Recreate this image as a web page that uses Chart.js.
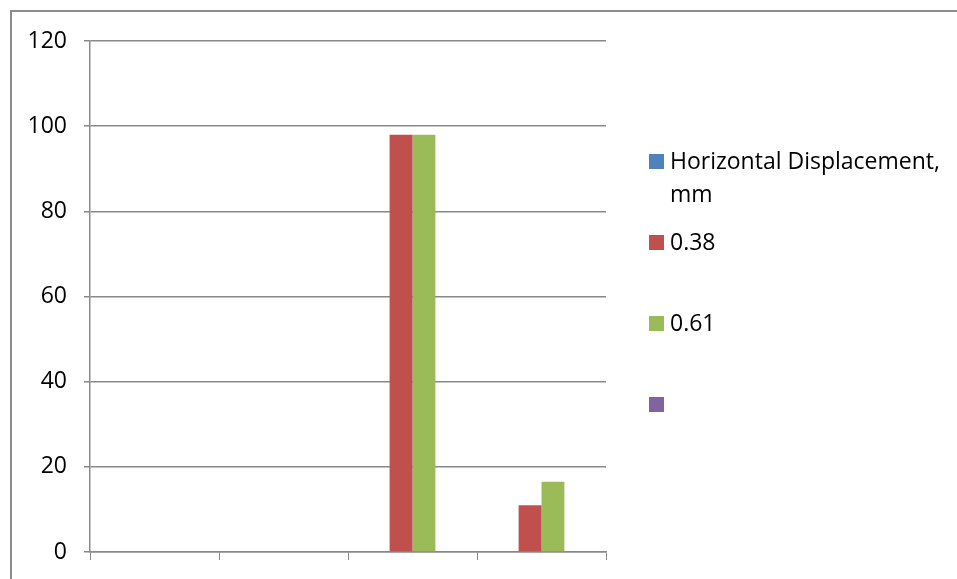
<!DOCTYPE html>
<html lang="en">
<head>
    <meta charset="UTF-8">
    <title>Displacement chart</title>
    <style>
        html, body { margin: 0; padding: 0; background: #fff; }
        #wrap { width: 957px; height: 579px; position: relative; }
    </style>
    <script src="https://cdn.jsdelivr.net/npm/chart.js"></script>
</head>
<body>
    <div id="wrap"><canvas id="dispChart"></canvas></div>

    <script>
        // chart data
        const categories = ['', '', '', ''];
        const seriesNames = ['Horizontal Displacement, mm', '0.38', '0.61', ''];
        const horizDisp = [null, null, null, null];
        const val038 = [null, null, 98, 11];
        const val061 = [null, null, 98, 16.5];
        const blankSeries = [null, null, null, null];
        const yTicks = [0, 20, 40, 60, 80, 100, 120];

        const colors = ['#4F81BD', '#C0504D', '#9BBB59', '#8064A2'];
        const gridGray = '#898989';
        const fontFam = '"Open Sans", "Noto Sans", sans-serif';

        // border around the chart + legend drawn at right like the excel one
        const frameAndLegend = {
            id: 'frameAndLegend',
            afterDraw(chart) {
                const ctx = chart.ctx;
                ctx.save();
                ctx.strokeStyle = '#8c8c8c';
                ctx.lineWidth = 2;
                ctx.beginPath();
                ctx.moveTo(11, 600);
                ctx.lineTo(11, 11);
                ctx.lineTo(980, 11);
                ctx.stroke();

                ctx.font = '23px ' + fontFam;
                ctx.textBaseline = 'alphabetic';
                let y = 154;
                chart.data.datasets.forEach(ds => {
                    ctx.fillStyle = ds.backgroundColor;
                    ctx.fillRect(649, y, 15, 15);
                    ctx.fillStyle = '#000';
                    const lines = ds.label.split(', ');
                    if (lines.length > 1) {
                        ctx.fillText(lines[0] + ',', 670, y + 15);
                        ctx.fillText(lines[1], 670, y + 48);
                    } else {
                        ctx.fillText(ds.label, 670, y + 15);
                    }
                    y += 81;
                });
                ctx.restore();
            }
        };

        const seriesData = [horizDisp, val038, val061, blankSeries];

        new Chart(document.getElementById('dispChart'), {
            type: 'bar',
            data: {
                labels: categories,
                datasets: seriesData.map((d, i) => ({
                    label: seriesNames[i],
                    data: d,
                    backgroundColor: colors[i],
                    borderWidth: 0,
                    barPercentage: 1,
                    categoryPercentage: 0.71
                }))
            },
            options: {
                responsive: true,
                maintainAspectRatio: false,
                animation: false,
                layout: { padding: { left: 10, top: 41, right: 351, bottom: 0 } },
                plugins: {
                    legend: { display: false },
                    tooltip: { enabled: false }
                },
                scales: {
                    x: {
                        grid: {
                            offset: true,
                            drawOnChartArea: false,
                            drawTicks: true,
                            tickLength: 8,
                            color: gridGray
                        },
                        border: { color: gridGray, width: 1.5 },
                        ticks: { display: false },
                        afterFit(scale) { scale.height = 27; }
                    },
                    y: {
                        min: 0,
                        max: 120,
                        afterBuildTicks(scale) {
                            scale.ticks = yTicks.map(v => ({ value: v }));
                        },
                        grid: {
                            color: gridGray,
                            lineWidth: 1.5,
                            tickLength: 6
                        },
                        border: { color: gridGray, width: 1.5 },
                        ticks: {
                            padding: 17,
                            color: '#000',
                            // small lineHeight so the label padding doesn't push the plot bottom up
                            font: { size: 23, family: fontFam, lineHeight: 0.8 }
                        },
                        afterFit(scale) { scale.width = 80; }
                    }
                }
            },
            plugins: [frameAndLegend]
        });
    </script>
</body>
</html>
